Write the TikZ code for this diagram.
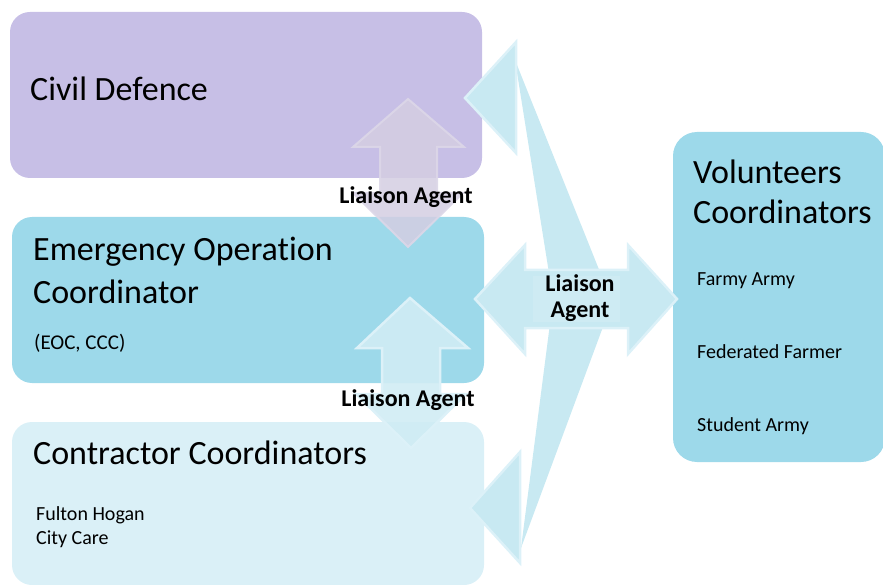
\documentclass[tikz,border=0pt]{standalone}
\usepackage{fontspec}
\setmainfont{Carlito}[Ligatures={NoCommon}]
\definecolor{cdpurple}{HTML}{C7BFE6}
\definecolor{eocblue}{HTML}{9DD9EA}
\definecolor{conblue}{HTML}{DAF0F7}
\definecolor{arrblue}{HTML}{C8E9F2}
\definecolor{arredge}{HTML}{DCF1F8}
\definecolor{arrpurple}{HTML}{D4CEE2}
\definecolor{arrpurpedge}{HTML}{DCD7E8}
\begin{document}
\begin{tikzpicture}[x=1pt,y=-1pt,
  box/.style={draw=none, rounded corners=20pt, inner sep=0pt},
  bigtxt/.style={anchor=base west, inner sep=0pt, font=\fontsize{34}{42}\selectfont, align=left},
  smalltxt/.style={anchor=base west, inner sep=0pt, font=\fontsize{20}{24}\selectfont, align=left},
  liaison/.style={inner sep=0pt, font=\bfseries\fontsize{24}{26}\selectfont, align=center},
  bluearrow/.style={fill=arrblue, draw=arredge, line width=2.5pt, line join=miter},
  purparrow/.style={fill=arrpurple, draw=arrpurpedge, line width=2pt, fill opacity=0.85, draw opacity=0.9},
  vblue/.style={fill=arrblue!85!white, draw=arredge, line width=2.5pt, fill opacity=0.9}
]
\useasboundingbox (0,0) rectangle (883,585);

% boxes
\node[box, fill=cdpurple, minimum width=472pt, minimum height=166pt] (cd) at (246,95) {};
\node[box, fill=eocblue, minimum width=472pt, minimum height=166pt] (eoc) at (248,300) {};
\node[box, fill=conblue, minimum width=472pt, minimum height=163pt] (con) at (248,503.5) {};
\node[box, fill=eocblue, rounded corners=24pt, minimum width=212pt, minimum height=330pt] (vol) at (779,297) {};

% big V-shaped liaison arrow
\fill[arrblue] (515,60) -- (608,292) -- (552,292) -- cycle;
\fill[arrblue] (552,308) -- (610,308) -- (521,548) -- cycle;
\draw[bluearrow] (465,98) -- (516,42) -- (516,153) -- cycle;
\draw[bluearrow] (470,508) -- (520,452) -- (520,563) -- cycle;
% horizontal double arrow
\draw[bluearrow] (475,299) -- (525,245) -- (525,270) -- (628,270) -- (628,245) -- (677,299)
  -- (628,354) -- (628,328) -- (525,328) -- (525,354) -- cycle;
\fill[arrblue!90!white] (533,276) rectangle (620,322);

% vertical arrow civil defence <-> EOC
\draw[purparrow] (408,99) -- (464,147) -- (437,147) -- (437,193) -- (463,193) -- (408,247)
  -- (353,193) -- (380,193) -- (380,147) -- (353,147) -- cycle;
% vertical arrow EOC <-> contractor
\draw[vblue] (410,298) -- (468,348) -- (440,348) -- (440,394) -- (466,394) -- (411,448)
  -- (356,394) -- (382,394) -- (382,348) -- (357,348) -- cycle;

% texts
\node[bigtxt] (cdt) at (30,101) {Civil Defence};
\node[bigtxt] (eoct) at (33,261) {Emergency Operation};
\node[bigtxt] (eoct2) at (33,303) {Coordinator};
\node[smalltxt, font=\fontsize{21}{24}\selectfont] (eocs) at (34,349) {(EOC, CCC)};
\node[bigtxt] (cont) at (33,464) {Contractor Coordinators};
\node[smalltxt] (cons1) at (36,520) {Fulton Hogan};
\node[smalltxt] (cons2) at (36,544) {City Care};
\node[bigtxt] (volt) at (693,184) {Volunteers};
\node[bigtxt] (volt2) at (693,224) {Coordinators};
\node[smalltxt] (v1) at (697,285) {Farmy Army};
\node[smalltxt] (v2) at (697,358) {Federated Farmer};
\node[smalltxt] (v3) at (697,431) {Student Army};

\node[liaison] (la1) at (406,197) {Liaison Agent};
\node[liaison] (la2) at (408,400) {Liaison Agent};
\node[liaison] (la3) at (580,298) {Liaison\\Agent};
\end{tikzpicture}
\end{document}
